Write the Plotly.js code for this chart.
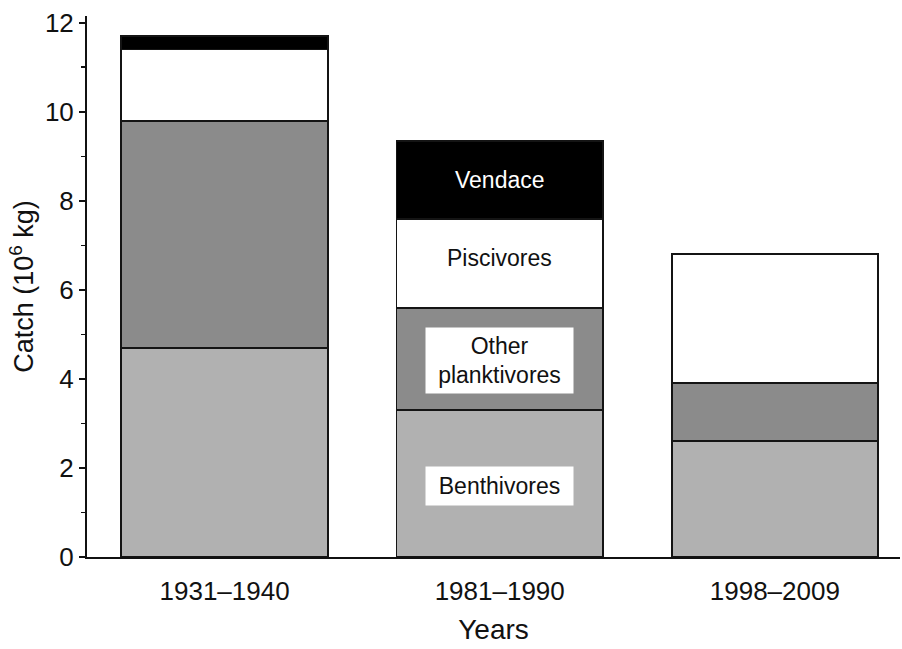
<!DOCTYPE html>
<html>
<head>
<meta charset="utf-8">
<script src="https://cdn.plot.ly/plotly-3.0.1.min.js"></script>
<style>body{margin:0;background:#fff}#chart{width:902px;height:649px}</style>
</head>
<body>
<div id="chart"></div>
<script>
const periods = ["1931–1940", "1981–1990", "1998–2009"];
const benthivores = [4.7, 3.3, 2.6];
const otherPlanktivores = [5.1, 2.3, 1.3];
const piscivores = [1.6, 2.0, 2.9];
const vendace = [0.3, 1.75, 0];

const seriesNames = ["Benthivores", "Other planktivores", "Piscivores", "Vendace"];
const seriesValues = [benthivores, otherPlanktivores, piscivores, vendace];
const seriesColors = ["#b1b1b1", "#8b8b8b", "#ffffff", "#000000"];

const traces = seriesNames.map((n, i) => ({
  type: "bar",
  name: n,
  x: periods,
  y: seriesValues[i],
  width: 0.75,
  marker: {color: seriesColors[i], line: {color: "#141414", width: 1.8}},
  hoverinfo: "name+y"
}));

// label positions inside the middle bar (cumulative midpoints)
const mid = 1;
const cum = [];
let acc = 0;
seriesValues.forEach(v => { cum.push(acc + v[mid] / 2); acc += v[mid]; });

const font = "Liberation Sans, Arial, sans-serif";
const annSize = 23;
const annotations = [
  {x: periods[mid], y: 1.6, text: "Benthivores", bgcolor: "#ffffff", width: 147, height: 38,
   font: {color: "#111", size: annSize, family: font}},
  {x: periods[mid], y: cum[1], yshift: -2, text: "Other<br>planktivores", bgcolor: "#ffffff", width: 147, height: 65,
   font: {color: "#111", size: annSize, family: font}},
  {x: periods[mid], y: cum[2], yshift: 5, text: "Piscivores",
   font: {color: "#111", size: annSize, family: font}},
  {x: periods[mid], y: cum[3], text: "Vendace",
   font: {color: "#ffffff", size: annSize, family: font}}
].map(a => Object.assign({xref: "x", yref: "y", showarrow: false, borderpad: 0}, a));

const layout = {
  width: 902, height: 649,
  margin: {l: 87, r: 2, t: 16, b: 92},
  paper_bgcolor: "#ffffff", plot_bgcolor: "#ffffff",
  barmode: "stack",
  showlegend: false,
  font: {family: font, color: "#111"},
  xaxis: {
    type: "category",
    range: [-0.5, 2.455],
    showline: true, linecolor: "#111", linewidth: 2,
    ticks: "", showgrid: false, zeroline: false,
    ticklabelstandoff: 10,
    tickfont: {size: 26, family: font, color: "#111"},
    title: {text: "Years", font: {size: 28, family: font, color: "#111"}, standoff: 14}
  },
  yaxis: {
    range: [0, 12.15],
    tickvals: [0, 2, 4, 6, 8, 10, 12],
    showline: true, linecolor: "#111", linewidth: 2,
    ticks: "outside", ticklen: 6, tickwidth: 2, tickcolor: "#111",
    minor: {tickvals: [1, 3, 5, 7, 9, 11], ticks: "outside", ticklen: 4, tickwidth: 1.5, tickcolor: "#111"},
    showgrid: false, zeroline: false,
    tickfont: {size: 26, family: font, color: "#111"},
    title: {text: "Catch (10<sup>6</sup> kg)", font: {size: 27, family: font, color: "#111"}, standoff: 3}
  },
  annotations: annotations
};

Plotly.newPlot("chart", traces, layout, {displayModeBar: false, staticPlot: true});
</script>
</body>
</html>
